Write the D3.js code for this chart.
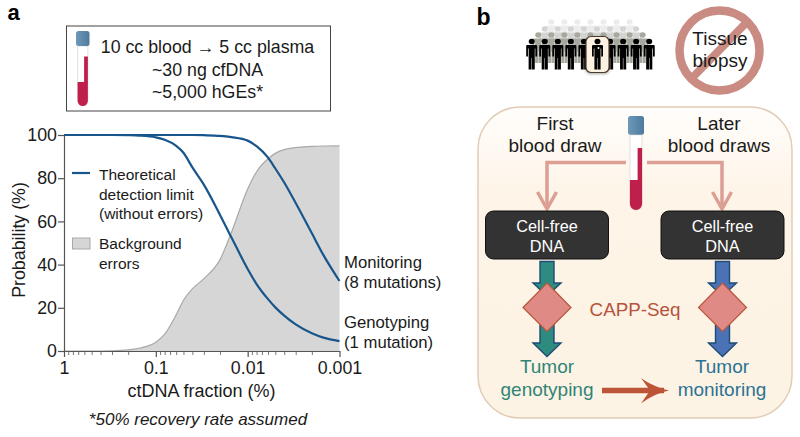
<!DOCTYPE html>
<html>
<head>
<meta charset="utf-8">
<script src="https://cdn.jsdelivr.net/npm/d3@7"></script>
<style>
  html, body { margin: 0; padding: 0; background: #fff; }
  svg { display: block; }
  text { font-family: "Liberation Sans", Arial, sans-serif; fill: #1a1a1a; }
  .axis path, .axis line { stroke: #555; }
  .axis text { font-size: 17.8px; fill: #1a1a1a; font-family: "Liberation Sans", Arial, sans-serif; }
</style>
</head>
<body>
<div id="chart"></div>
<script>
// values
const fractions = [1, 0.5, 0.3, 0.2, 0.15, 0.1, 0.08, 0.06, 0.05, 0.04, 0.03, 0.02, 0.015, 0.01,
  0.008, 0.006, 0.005, 0.004, 0.003, 0.002, 0.0015, 0.001];
const genotyping = [100, 100, 100, 99.9, 99.7, 98.9, 97.8, 95, 91.8, 85, 77, 63, 52.5, 38,
  31, 24, 20.2, 16.4, 12.3, 8.2, 6.2, 4.6];
const monitoring = [100, 100, 100, 100, 100, 100, 100, 100, 100, 100, 99.9, 99.6, 99, 97.4,
  94.8, 89.5, 84.5, 78, 68.5, 54.5, 44.5, 32.4];
const background = [0, 0, 0.1, 0.5, 1.4, 4.1, 7.8, 16.8, 23.5, 28.8, 33.5, 42.3, 55, 75,
  83, 89, 91.5, 93.2, 94.2, 94.7, 94.9, 95];

const xMajor = [1, 0.1, 0.01, 0.001];
const xMajorLabels = ["1", "0.1", "0.01", "0.001"];
const xMinor = [0.9, 0.8, 0.7, 0.6, 0.5, 0.4, 0.3, 0.2,
  0.09, 0.08, 0.07, 0.06, 0.05, 0.04, 0.03, 0.02,
  0.009, 0.008, 0.007, 0.006, 0.005, 0.004, 0.003, 0.002];
const yTicks = [0, 20, 40, 60, 80, 100];

const headerLines = ["10 cc blood \u2192 5 cc plasma", "~30 ng cfDNA", "~5,000 hGEs*"];
const legendLine = ["Theoretical", "detection limit", "(without errors)"];
const legendArea = ["Background", "errors"];

const blue = "#17568c", grey = "#d6d6d6", greyEdge = "#a9a9a9";

// === sizing ===
const outerW = 800, outerH = 437;
const plot = { left: 64, right: 339.5, top: 135, bottom: 351 };

const svg = d3.select("#chart").append("svg")
  .attr("width", outerW).attr("height", outerH);

const defs = svg.append("defs");
const panelGrad = defs.append("linearGradient").attr("id", "panelGrad")
  .attr("x1", 0).attr("y1", 0).attr("x2", 0).attr("y2", 1);
panelGrad.append("stop").attr("offset", "0").attr("stop-color", "#fffdfb");
panelGrad.append("stop").attr("offset", "0.3").attr("stop-color", "#fef4e7");
panelGrad.append("stop").attr("offset", "1").attr("stop-color", "#fdf3e4");
const capGrad = defs.append("linearGradient").attr("id", "capGrad");
capGrad.append("stop").attr("offset", "0").attr("stop-color", "#6f98b8");
capGrad.append("stop").attr("offset", "1").attr("stop-color", "#4d7a9e");

function label(parent, str, x, y, size, opts = {}) {
  return parent.append("text")
    .attr("x", x).attr("y", y)
    .attr("text-anchor", opts.anchor || "start")
    .attr("font-size", size)
    .attr("font-weight", opts.weight || null)
    .attr("font-style", opts.style || null)
    .style("fill", opts.fill || null)
    .text(str);
}

// blood tube, x/y = top left of the cap
function tube(x, y, w, h) {
  const g = svg.append("g").attr("transform", `translate(${x},${y})`);
  const capH = h * 0.2, bodyX = w * 0.12, bodyW = w * 0.76;
  g.append("path")
    .attr("d", `M${bodyX},${capH} h${bodyW} V${h - bodyW / 2} a${bodyW / 2},${bodyW / 2} 0 0 1 ${-bodyW},0 Z`)
    .attr("fill", "#fff").attr("stroke", "#d9d4d0").attr("stroke-width", 0.7);
  g.append("path")
    .attr("d", `M${bodyX},${h * 0.68} h${bodyW} V${h - bodyW / 2} a${bodyW / 2},${bodyW / 2} 0 0 1 ${-bodyW},0 Z`)
    .attr("fill", "#bf1f4b");
  g.append("rect")
    .attr("x", w * 0.6).attr("y", h * 0.34)
    .attr("width", w * 0.28).attr("height", h * 0.35)
    .attr("fill", "#bf1f4b");
  g.append("rect").attr("width", w).attr("height", capH).attr("rx", 2.5).attr("fill", "url(#capGrad)");
  return g;
}

// ===== panel a =====
label(svg, "a", 7.5, 20, 22, { weight: "bold" }).style("fill", "#000");

svg.append("rect")
  .attr("x", 66.5).attr("y", 26).attr("width", 264).attr("height", 85)
  .attr("fill", "#fff").attr("stroke", "#444").attr("stroke-width", 1);
tube(76, 31, 13.5, 75);
[53, 76, 98].forEach((y, i) => label(svg, headerLines[i], 207.5, y, 17.8, { anchor: "middle" }));

const x = d3.scaleLog().domain([1, 0.001]).range([plot.left, plot.right]);
const y = d3.scaleLinear().domain([0, 100]).range([plot.bottom, plot.top]);

const rows = fractions.map((f, i) => ({
  f, genotyping: genotyping[i], monitoring: monitoring[i], background: background[i]
}));

const area = d3.area().x(d => x(d.f)).y0(y(0)).y1(d => y(d.background)).curve(d3.curveMonotoneX);
const bgLine = d3.line().x(d => x(d.f)).y(d => y(d.background)).curve(d3.curveMonotoneX);

svg.append("path").datum(rows).attr("d", area).attr("fill", grey);
svg.append("path").datum(rows).attr("d", bgLine).attr("fill", "none")
  .attr("stroke", greyEdge).attr("stroke-width", 1.2);

const g = svg.append("g");
["monitoring", "genotyping"].forEach(key => {
  g.append("path").datum(rows)
    .attr("d", d3.line().x(d => x(d.f)).y(d => y(d[key])).curve(d3.curveMonotoneX))
    .attr("fill", "none").attr("stroke", blue).attr("stroke-width", 2.2);
});

// axes
svg.append("g").attr("class", "axis")
  .attr("transform", `translate(0,${plot.bottom})`)
  .call(d3.axisBottom(x).tickValues(xMinor).tickSize(4).tickFormat(""))
  .call(s => s.select(".domain").remove())
  .selectAll("line").attr("stroke-width", 0.8);
svg.append("g").attr("class", "axis")
  .attr("transform", `translate(0,${plot.bottom})`)
  .call(d3.axisBottom(x).tickValues(xMajor).tickSize(6).tickSizeOuter(0)
    .tickPadding(4).tickFormat((d, i) => xMajorLabels[i]))
  .call(s => s.selectAll("path,line").attr("stroke-width", 1.2));
svg.append("g").attr("class", "axis")
  .attr("transform", `translate(${plot.left},0)`)
  .call(d3.axisLeft(y).tickValues(yTicks).tickSize(6).tickSizeOuter(0).tickPadding(1))
  .call(s => s.selectAll("path,line").attr("stroke-width", 1.2));

label(svg, "ctDNA fraction (%)", 201.5, 397, 18, { anchor: "middle" });
svg.append("text")
  .attr("transform", "translate(24.5,240) rotate(-90)")
  .attr("text-anchor", "middle").attr("font-size", 17.8)
  .text("Probability (%)");
label(svg, "*50% recovery rate assumed", 198, 425, 17, { anchor: "middle", style: "italic" });

// legend
svg.append("line").attr("x1", 72).attr("x2", 90).attr("y1", 173).attr("y2", 173)
  .attr("stroke", blue).attr("stroke-width", 2.2);
[180, 200, 219].forEach((yy, i) => label(svg, legendLine[i], 99, yy, 15.5));
svg.append("rect").attr("x", 72.5).attr("y", 238).attr("width", 17.5).attr("height", 11)
  .attr("fill", grey).attr("stroke", greyEdge).attr("stroke-width", 1);
[249, 269].forEach((yy, i) => label(svg, legendArea[i], 99, yy, 15.5));

// series labels
label(svg, "Monitoring", 344, 268, 16.7);
label(svg, "(8 mutations)", 344, 288, 16.7);
label(svg, "Genotyping", 344, 328, 16.7);
label(svg, "(1 mutation)", 344, 348, 16.7);

// ===== panel b =====
label(svg, "b", 476.5, 25, 23, { weight: "bold" }).style("fill", "#000");

// crowd of people, back row first
const crowdRows = [
  { n: 7, y: 22, color: "#ececec", x0: 551.3 },
  { n: 8, y: 29, color: "#d4d4d2", x0: 544.7 },
  { n: 9, y: 35, color: "#a8a89e", x0: 538.2 },
  { n: 10, y: 41.5, color: "#000", x0: 531.7 }
];
function person(px, py, color) {
  const p = svg.append("g").attr("transform", `translate(${px},${py}) scale(1.1,1)`).attr("fill", color);
  p.append("circle").attr("r", 2.7);
  p.append("path").attr("d", "M-4,3.5 h8 q1,0 1,1 V15 h-1.6 V7 h-.6 V28 h-2.6 V16.5 h-.4 V28 h-2.6 V7 h-.6 V15 H-5 V4.5 q0,-1 1,-1 Z");
}
crowdRows.forEach(r => {
  d3.range(r.n).forEach(i => person(r.x0 + i * 13.06, r.y, r.color));
});
svg.append("rect").attr("x", 586).attr("y", 36.5).attr("width", 23).attr("height", 36).attr("rx", 5)
  .attr("fill", "#fdf1e1").attr("stroke", "#4c3a2a").attr("stroke-width", 1.2)
  .style("filter", "drop-shadow(0 1.5px 1.5px rgba(0,0,0,.35))");
person(597.5, 41.5, "#000");
svg.append("circle").attr("cx", 598.5).attr("cy", 48).attr("r", 1).attr("fill", "#fff");

// no tissue biopsy sign
svg.append("line").attr("x1", 747).attr("y1", 22).attr("x2", 691).attr("y2", 79)
  .attr("stroke", "#c98b82").attr("stroke-width", 8);
label(svg, "Tissue", 720, 45, 19, { anchor: "middle" });
label(svg, "biopsy", 720, 67, 19, { anchor: "middle" });
svg.append("circle").attr("cx", 719.5).attr("cy", 50.5).attr("r", 40)
  .attr("fill", "none").attr("stroke", "#c98b82").attr("stroke-width", 8.5);

// workflow box
svg.append("rect").attr("x", 478).attr("y", 107).attr("width", 314).attr("height", 311).attr("rx", 42)
  .attr("fill", "url(#panelGrad)").attr("stroke", "#e2ccb6").attr("stroke-width", 1.5);

label(svg, "First", 555, 130, 19, { anchor: "middle" });
label(svg, "blood draw", 555, 152, 19, { anchor: "middle" });
label(svg, "Later", 719, 130, 19, { anchor: "middle" });
label(svg, "blood draws", 719, 152, 19, { anchor: "middle" });

// pink arrows out of the tube
const pink = "#dc9f94";
function elbow(x0, x1) {
  svg.append("path").attr("d", `M${x0},162.5 H${x1} V209`)
    .attr("fill", "none").attr("stroke", pink).attr("stroke-width", 3.5);
  svg.append("path").attr("d", `M${x1 - 9.5},192 L${x1},209 L${x1 + 9.5},192`)
    .attr("fill", "none").attr("stroke", pink).attr("stroke-width", 3.5);
}
elbow(626, 547);
elbow(647, 722);
tube(628, 116, 16, 94);

// cfDNA boxes and down arrows
function column(cx, fill) {
  svg.append("rect").attr("x", cx - 61.5).attr("y", 211).attr("width", 123).attr("height", 48).attr("rx", 8)
    .attr("fill", "#333").attr("stroke", "#111").attr("stroke-width", 1);
  label(svg, "Cell-free", cx, 232, 16.3, { anchor: "middle" }).style("fill", "#fff");
  label(svg, "DNA", cx, 252, 16.3, { anchor: "middle" }).style("fill", "#fff");
  const arrow = (y0, y1, tip) => svg.append("path")
    .attr("d", `M${cx - 7},${y0} H${cx + 7} V${y1} H${cx + 14} L${cx},${tip} L${cx - 14},${y1} H${cx - 7} Z`)
    .attr("fill", fill).attr("stroke", "#1d4c74").attr("stroke-width", 1.4);
  arrow(261.5, 283, 296);
  arrow(318, 343, 356.5);
  svg.append("path").attr("d", `M${cx},283 L${cx + 24},307.5 L${cx},331.5 L${cx - 24},307.5 Z`)
    .attr("fill", "#df8a85").attr("stroke", "#b9553a").attr("stroke-width", 1.2);
}
column(547, "#2f8a80");
column(722.5, "#4a72b5");

label(svg, "CAPP-Seq", 635, 316, 18.8, { anchor: "middle" }).style("fill", "#b5533c");

label(svg, "Tumor", 547, 373, 19, { anchor: "middle" }).style("fill", "#2f8577");
label(svg, "genotyping", 547, 396, 19, { anchor: "middle" }).style("fill", "#2f8577");
label(svg, "Tumor", 722, 373, 19, { anchor: "middle" }).style("fill", "#2b7293");
label(svg, "monitoring", 722, 396, 19, { anchor: "middle" }).style("fill", "#2b7293");

svg.append("path").attr("d", "M602,390.5 H664").attr("stroke", "#bb5536").attr("stroke-width", 5.5);
svg.append("path").attr("d", "M641,378 C650,384 658,388 669,390.5 C658,393 650,397 641,403.5 L650,390.5 Z")
  .attr("fill", "#bb5536");
</script>
</body>
</html>
